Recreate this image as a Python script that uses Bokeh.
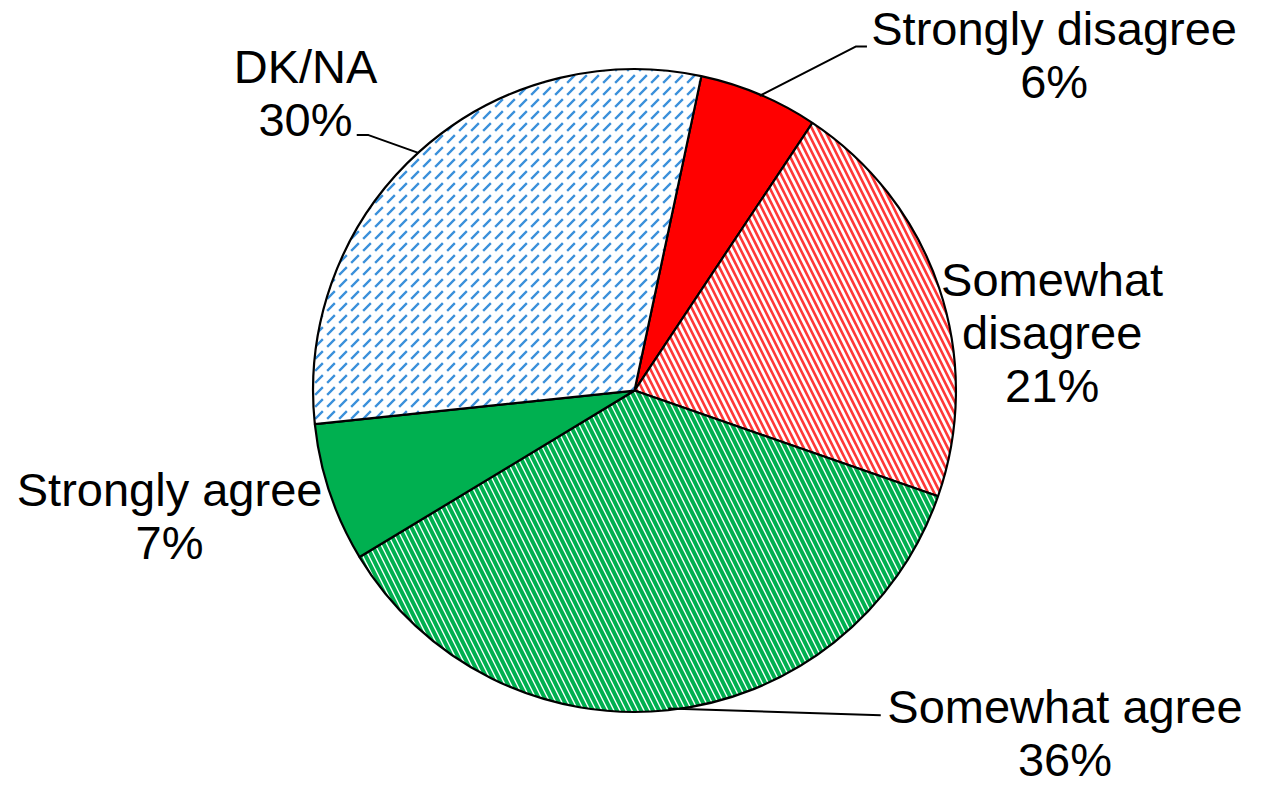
import math
from bokeh.plotting import figure
from bokeh.models import Range1d
from bokeh.embed import file_html
from bokeh.resources import INLINE
from bokeh.core.properties import value

# ---- data ----
categories = ["Strongly disagree", "Somewhat disagree", "Somewhat agree", "Strongly agree", "DK/NA"]
percents = [6, 21, 36, 7, 30]
label_lines = [["Strongly disagree", "6%"],
               ["Somewhat", "disagree", "21%"],
               ["Somewhat agree", "36%"],
               ["Strongly agree", "7%"],
               ["DK/NA", "30%"]]
fill_colors = ["#FF0000", "white", "white", "#00B050", "white"]
hatch_patterns = [None, "left_diagonal_line", "left_diagonal_line", None, "right_diagonal_dash"]
hatch_colors = ["#FF0000", "#FF3838", "#00B050", "#00B050", "#3A90DA"]
hatch_weights = [1, 2.6, 4.0, 1, 2.4]
hatch_scales = [8, 12, 12, 8, 12]

# ---- layout (reference pixel coordinates, mapped into the plot) ----
W, H = 1251, 788
SX, SY = 0.985, 0.975
def X(ix):
    return (ix - 640) * SX + 634
def Y(iy):
    return H - ((iy - 406) * SY + 392)

cx, cy, r = 640, 404, 328
start_deg = 12  # clockwise from 12 o'clock

label_x = [1066, 1064, 1077, 168, 306]
label_y0 = [33, 290, 728, 505, 72]
line_gap = 54.5
leader_pts = {0: [(865, 51), (876, 51)],
              2: [(890, 737)],
              4: [(370, 142), (358, 142)]}

p = figure(width=W, height=H, output_backend="svg", toolbar_location=None,
           x_range=Range1d(0, W), y_range=Range1d(0, H),
           min_border=0)
p.axis.visible = False
p.grid.visible = False
p.outline_line_color = None
p.background_fill_color = "white"

cum = 0.0
mids = []
for i, v in enumerate(percents):
    a0 = start_deg + cum * 3.6
    a1 = start_deg + (cum + v) * 3.6
    mids.append((a0 + a1) / 2)
    cum += v
    s = math.radians(90 - a0)
    e = math.radians(90 - a1)
    kw = {}
    if hatch_patterns[i]:
        kw = dict(hatch_pattern=hatch_patterns[i], hatch_color=hatch_colors[i],
                  hatch_weight=hatch_weights[i], hatch_scale=hatch_scales[i])
    p.wedge(x=X(cx), y=Y(cy), radius=r * (SX + SY) / 2, start_angle=s, end_angle=e,
            direction="clock", fill_color=fill_colors[i], line_color="black",
            line_width=2.2, **kw)

for i, pts in leader_pts.items():
    a = math.radians(mids[i])
    ex = cx + r * math.sin(a)
    ey = cy - r * math.cos(a)
    xs = [X(ex)] + [X(q[0]) for q in pts]
    ys = [Y(ey)] + [Y(q[1]) for q in pts]
    p.line(xs, ys, line_color="black", line_width=2)

for i, lines in enumerate(label_lines):
    for k, t in enumerate(lines):
        p.text(x=[X(label_x[i])], y=[Y(label_y0[i] + k * line_gap)], text=[t],
               text_align="center", text_baseline="middle",
               text_font=value("Liberation Sans"), text_font_size="47px",
               text_color="black")

open("out.html", "w").write(file_html(p, INLINE))
